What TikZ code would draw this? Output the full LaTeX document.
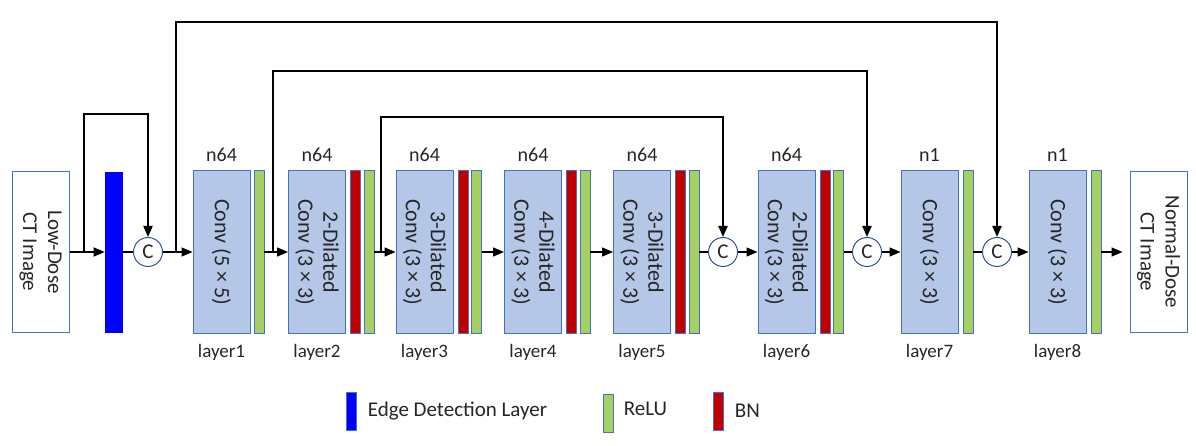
\documentclass[tikz,border=0pt]{standalone}
\usepackage{fontspec}
\setmainfont{Carlito}
\usetikzlibrary{positioning, arrows.meta}
\definecolor{convfill}{HTML}{B4C7E7}
\definecolor{convedge}{HTML}{4472C4}
\definecolor{relugreen}{HTML}{A4D064}
\definecolor{bnred}{HTML}{C00000}
\definecolor{edgeblue}{HTML}{0000FF}
\definecolor{catedge}{HTML}{2F5597}
\definecolor{txt}{HTML}{262626}

\begin{document}
\begin{tikzpicture}[x=1pt, y=-1pt, >={Triangle[length=11pt,width=9pt]},
    conv/.style={draw=convedge, fill=convfill, line width=1pt, minimum width=57pt, minimum height=163pt, inner sep=0pt},
    bar/.style={draw=convedge, line width=0.6pt, minimum width=10pt, minimum height=163pt, inner sep=0pt},
    relu/.style={bar, fill=relugreen},
    bn/.style={bar, fill=bnred},
    img/.style={draw=convedge, fill=white, line width=1pt, minimum width=57pt, minimum height=161pt, inner sep=0pt},
    cat/.style={circle, draw=catedge, fill=white, line width=1pt, minimum size=29pt, inner sep=0pt, text=txt, font=\fontsize{21}{22}\selectfont},
    vtext/.style={rotate=-90, align=center, text=txt, font=\fontsize{21}{25}\selectfont},
    ntop/.style={above=5pt of #1, text=txt, font=\fontsize{20}{24}\selectfont},
    nbot/.style={below=7pt of #1, text=txt, font=\fontsize{19}{23}\selectfont},
    keytext/.style={text=txt, font=\fontsize{21}{25}\selectfont},
    link/.style={line width=1.3pt},
    skipline/.style={line width=2pt, ->}
  ]
    \useasboundingbox (0,0) rectangle (1196,446);

    \node[img] (in) at (40.5,252) {};
    \node[vtext] at (in) {Low-Dose\\CT Image};
    \node[bar, fill=edgeblue, draw=edgeblue, minimum width=17pt, minimum height=160pt] (edge) at (113.5,252) {};
    \node[cat] (c0) at (148,252) {C};

    \node[conv] (l1) at (221.5,252) {};
    \node[relu, right=3pt of l1] (r1) {};
    \node[vtext, font=\fontsize{22}{25}\selectfont] at (l1) {Conv (5 × 5)};
    \node[ntop=l1] {n64};
    \node[nbot=l1] {layer1};

    \node[conv] (l2) at (317,252) {};
    \node[bn, right=4pt of l2] (b2) {};
    \node[relu, right=3pt of b2] (r2) {};
    \node[vtext, font=\fontsize{22}{25}\selectfont] at (l2) {2-Dilated\\Conv (3 × 3)};
    \node[ntop=l2] {n64};
    \node[nbot=l2] {layer2};

    \node[conv] (l3) at (424.5,252) {};
    \node[bn, right=4pt of l3] (b3) {};
    \node[relu, right=3pt of b3] (r3) {};
    \node[vtext, font=\fontsize{22}{25}\selectfont] at (l3) {3-Dilated\\Conv (3 × 3)};
    \node[ntop=l3] {n64};
    \node[nbot=l3] {layer3};

    \node[conv] (l4) at (533,252) {};
    \node[bn, right=4pt of l4] (b4) {};
    \node[relu, right=3pt of b4] (r4) {};
    \node[vtext, font=\fontsize{22}{25}\selectfont] at (l4) {4-Dilated\\Conv (3 × 3)};
    \node[ntop=l4] {n64};
    \node[nbot=l4] {layer4};

    \node[conv] (l5) at (642,252) {};
    \node[bn, right=4pt of l5] (b5) {};
    \node[relu, right=3pt of b5] (r5) {};
    \node[vtext, font=\fontsize{22}{25}\selectfont] at (l5) {3-Dilated\\Conv (3 × 3)};
    \node[ntop=l5] {n64};
    \node[nbot=l5] {layer5};

    \node[cat] (c1) at (723,252) {C};

    \node[conv] (l6) at (786.5,252) {};
    \node[bn, right=4pt of l6] (b6) {};
    \node[relu, right=3pt of b6] (r6) {};
    \node[vtext, font=\fontsize{22}{25}\selectfont] at (l6) {2-Dilated\\Conv (3 × 3)};
    \node[ntop=l6] {n64};
    \node[nbot=l6] {layer6};

    \node[cat] (c2) at (867,252) {C};

    \node[conv] (l7) at (929.5,252) {};
    \node[relu, right=4pt of l7] (r7) {};
    \node[vtext, font=\fontsize{22}{25}\selectfont] at (l7) {Conv (3 × 3)};
    \node[ntop=l7] {n1};
    \node[nbot=l7] {layer7};

    \node[cat] (c3) at (997,252) {C};

    \node[conv] (l8) at (1057.5,252) {};
    \node[relu, right=4pt of l8] (r8) {};
    \node[vtext, font=\fontsize{22}{25}\selectfont] at (l8) {Conv (3 × 3)};
    \node[ntop=l8] {n1};
    \node[nbot=l8] {layer8};

    \node[img] (out) at (1158.5,252) {};
    \node[vtext] at (out) {Normal-Dose\\CT Image};

    \draw[link, ->] (in) -- (edge);
    \draw[link] (edge) -- (c0);
    \draw[link, ->] (c0) -- (l1);
    \draw[link, ->] (r1) -- (l2);
    \draw[link, ->] (r2) -- (l3);
    \draw[link, ->] (r3) -- (l4);
    \draw[link, ->] (r4) -- (l5);
    \draw[link] (r5) -- (c1);
    \draw[link, ->] (c1) -- (l6);
    \draw[link] (r6) -- (c2);
    \draw[link, ->] (c2) -- (l7);
    \draw[link] (r7) -- (c3);
    \draw[link, ->] (c3) -- (l8);
    \draw[link, ->, shorten >=7pt] (r8) -- (out);

    \coordinate (s0) at (84,252);
    \coordinate (s1) at (176,252);
    \coordinate (s2) at (273,252);
    \coordinate (s3) at (381,252);
    \draw[skipline] (s0) -- ++(0,-138) -| (c0);
    \draw[skipline] (s1) -- ++(0,-230) -| (c3);
    \draw[skipline] (s2) -- ++(0,-181) -| (c2);
    \draw[skipline] (s3) -- ++(0,-135) -| (c1);

    \node[bar, fill=edgeblue, minimum height=38pt] (kedge) at (351,411) {};
    \node[keytext, right=8pt of kedge] {Edge Detection Layer};
    \node[relu, minimum height=38pt] (krelu) at (608,413) {};
    \node[keytext, right=7pt of krelu, yshift=4pt] {ReLU};
    \node[bn, minimum height=38pt] (kbn) at (718,411) {};
    \node[keytext, right=8pt of kbn] {BN};
\end{tikzpicture}
\end{document}
